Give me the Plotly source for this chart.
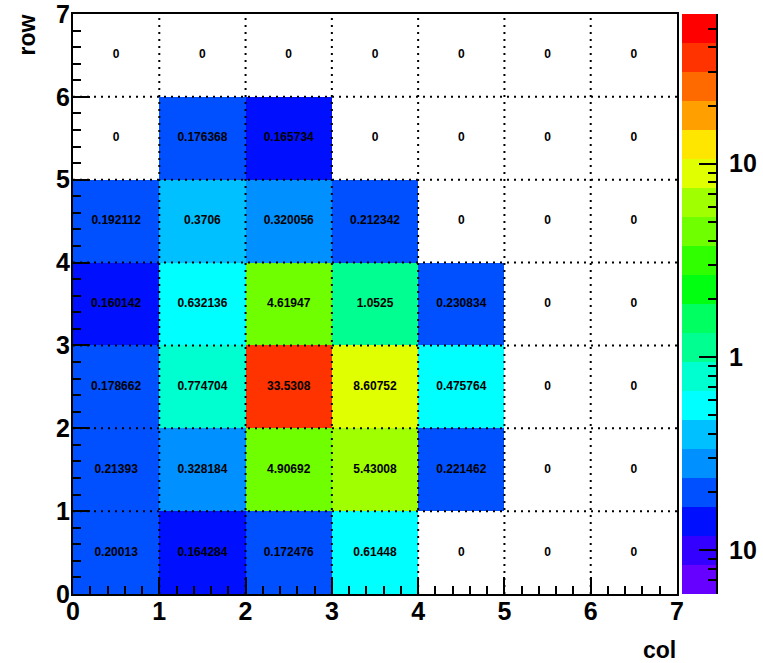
import numpy as np
import plotly.graph_objects as go

# ---- data ----
cols = [0, 1, 2, 3, 4, 5, 6]
rows = [0, 1, 2, 3, 4, 5, 6]
# values[row][col], row 0 at bottom
values = [
    [0.20013, 0.164284, 0.172476, 0.61448, 0, 0, 0],
    [0.21393, 0.328184, 4.90692, 5.43008, 0.221462, 0, 0],
    [0.178662, 0.774704, 33.5308, 8.60752, 0.475764, 0, 0],
    [0.160142, 0.632136, 4.61947, 1.0525, 0.230834, 0, 0],
    [0.192112, 0.3706, 0.320056, 0.212342, 0, 0, 0],
    [0, 0.176368, 0.165734, 0, 0, 0, 0],
    [0, 0, 0, 0, 0, 0, 0],
]
axis_ticks = [0, 1, 2, 3, 4, 5, 6, 7]
cbar_tickvals = [0.1, 1, 10]
cbar_ticktext = ["10", "1", "10"]

# colour scale (log10 z range) and palette bottom -> top
LOGZ_MIN, LOGZ_MAX = -1.227, 1.775
palette = [
    "#6600ff", "#3300ff", "#0010ff", "#0050ff", "#0090ff",
    "#00c0ff", "#00ffff", "#00ffd0", "#00ff90", "#00ff60",
    "#00ff10", "#30ff00", "#70ff00", "#a0ff00", "#e0ff00",
    "#ffe600", "#ffa000", "#ff6a00", "#ff3300", "#ff0000",
]
n = len(palette)
colorscale = []
for i, c in enumerate(palette):
    colorscale.append([i / n, c])
    colorscale.append([(i + 1) / n, c])

FONT = "Liberation Sans, Arial, sans-serif"

z = [[(np.log10(v) if v > 0 else None) for v in r] for r in values]
xc = [c + 0.5 for c in cols]
yc = [r + 0.5 for r in rows]

fig = go.Figure()
fig.add_trace(go.Heatmap(
    x=xc, y=yc, z=z, zmin=LOGZ_MIN, zmax=LOGZ_MAX,
    colorscale=colorscale, showscale=False, hoverinfo="skip",
))

# cell texts
tx, ty, tt = [], [], []
for ri, r in enumerate(rows):
    for ci, c in enumerate(cols):
        tx.append(c + 0.5)
        ty.append(r + 0.5)
        tt.append(f"{values[ri][ci]:g}")
fig.add_trace(go.Scatter(
    x=tx, y=ty, text=tt, mode="text",
    textfont=dict(family=FONT, size=12, color="black", weight="bold"),
    hoverinfo="skip", showlegend=False,
))

# palette bar on secondary axes
edges = np.linspace(LOGZ_MIN, LOGZ_MAX, n + 1)
fig.add_trace(go.Bar(
    x=[0.5] * n, base=edges[:-1], y=np.diff(edges), width=1,
    marker=dict(color=palette, line=dict(width=0)),
    xaxis="x2", yaxis="y2", hoverinfo="skip", showlegend=False,
))

# dotted grid above the cells
shapes = []
for v in axis_ticks[1:-1]:
    shapes.append(dict(type="line", xref="x", yref="y", x0=v, x1=v, y0=0, y1=7,
                       line=dict(color="black", width=2, dash="2px,5px"), layer="above"))
    shapes.append(dict(type="line", xref="x", yref="y", x0=0, x1=7, y0=v, y1=v,
                       line=dict(color="black", width=2, dash="2px,5px"), layer="above"))

minor_vals = [np.log10(m * d) for d in (0.01, 0.1, 1, 10) for m in range(2, 10)
              if LOGZ_MIN <= np.log10(m * d) <= LOGZ_MAX]

axfont = dict(family=FONT, size=25, color="black", weight="bold")
common = dict(range=[0, 7], tickvals=axis_ticks, ticks="inside", ticklen=17,
              tickwidth=2, tickcolor="black", showline=True, linewidth=2,
              linecolor="black", mirror=True, showgrid=False, zeroline=False,
              tickfont=axfont, layer="above traces", automargin=False,
              ticklabeloverflow="allow",
              minor=dict(dtick=0.2, ticks="inside", ticklen=8, tickwidth=2,
                         tickcolor="black", showgrid=False))

W, H = 763, 663
L, T, R, B = 73, 14, 47, 69
PW = W - L - R
fig.update_layout(
    width=W, height=H,
    margin=dict(l=L, r=R, t=T, b=B, autoexpand=False),
    paper_bgcolor="white", plot_bgcolor="white",
    font=dict(family=FONT, color="black"),
    showlegend=False,
    xaxis=dict(domain=[0, 604 / PW], ticklabelstandoff=-6, **common),
    yaxis=dict(domain=[0, 1], ticklabelstandoff=-4, **common),
    xaxis2=dict(domain=[609 / PW, 1], range=[0, 1], visible=False, anchor="y2",
                fixedrange=True, automargin=False),
    yaxis2=dict(domain=[0, 1], anchor="x2", side="right",
                range=[LOGZ_MIN, LOGZ_MAX], automargin=False,
                tickvals=[np.log10(v) for v in cbar_tickvals], ticktext=cbar_ticktext,
                ticks="inside", ticklen=17, tickwidth=2, tickcolor="black",
                showline=True, linewidth=2, linecolor="black", showgrid=False,
                zeroline=False, tickfont=axfont, ticklabelstandoff=6,
                ticklabeloverflow="allow",
                minor=dict(tickvals=minor_vals, ticks="inside", ticklen=8,
                           tickwidth=2, tickcolor="black", showgrid=False)),
    shapes=shapes,
    annotations=[
        dict(text="col", xref="x domain", yref="y domain", x=1.002, y=-0.097,
             xanchor="right", yanchor="middle", showarrow=False,
             font=dict(family=FONT, size=23, color="black", weight="bold")),
        dict(text="row", xref="x domain", yref="y domain", x=-0.076, y=1.002,
             xanchor="center", yanchor="top", textangle=-90, showarrow=False,
             font=dict(family=FONT, size=23, color="black", weight="bold")),
    ],
)

fig.write_html("out.html", config={"displayModeBar": False},
               post_script="document.body.style.margin='0';")
